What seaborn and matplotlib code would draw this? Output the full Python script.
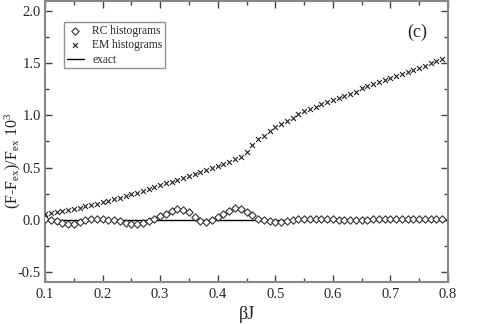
import numpy as np
import pandas as pd
import matplotlib
matplotlib.use("Agg")
import matplotlib.pyplot as plt
import seaborn as sns
from matplotlib.ticker import MultipleLocator

beta = [round(0.10 + 0.01 * i, 2) for i in range(70)]

rc_vals = [0.005, 0.000, -0.010, -0.030, -0.045, -0.040, -0.020, 0.000, 0.005, 0.005,
           0.005, 0.000, 0.000, -0.010, -0.030, -0.040, -0.045, -0.030, -0.015, 0.010,
           0.030, 0.050, 0.080, 0.100, 0.090, 0.070, 0.020, -0.010, -0.020, 0.000,
           0.020, 0.050, 0.080, 0.110, 0.100, 0.070, 0.040, 0.010, 0.000, -0.010,
           -0.020, -0.020, -0.010, 0.000, 0.002, 0.004, 0.005, 0.005, 0.005, 0.004,
           0.002, 0.000, -0.003, -0.005, -0.005, -0.003, 0.000, 0.003, 0.005, 0.006,
           0.007, 0.008, 0.008, 0.007, 0.006, 0.005, 0.005, 0.004, 0.004, 0.003]

em_vals = [0.050, 0.060, 0.070, 0.080, 0.092, 0.103, 0.115, 0.127, 0.140, 0.153,
           0.167, 0.181, 0.196, 0.211, 0.227, 0.243, 0.259, 0.276, 0.293, 0.311,
           0.329, 0.347, 0.365, 0.383, 0.401, 0.420, 0.438, 0.457, 0.476, 0.495,
           0.515, 0.535, 0.556, 0.578, 0.605, 0.650, 0.720, 0.770, 0.800, 0.850,
           0.890, 0.920, 0.950, 0.980, 1.010, 1.040, 1.060, 1.080, 1.110, 1.130,
           1.150, 1.170, 1.190, 1.210, 1.230, 1.260, 1.280, 1.300, 1.320, 1.340,
           1.360, 1.380, 1.400, 1.420, 1.440, 1.460, 1.480, 1.500, 1.520, 1.540]

exact_x = [0.1, 0.8]
exact_y = [0.0, 0.0]

sns.set_style("ticks")
plt.rcParams['font.family'] = ['Liberation Serif', 'DejaVu Serif']
plt.rcParams['mathtext.fontset'] = 'custom'
plt.rcParams['mathtext.rm'] = 'Liberation Serif'
plt.rcParams['mathtext.it'] = 'Liberation Serif:italic'

fig = plt.figure(figsize=(4.85, 3.24), dpi=100)
ax = fig.add_axes([0.0928, 0.1296, 0.8309, 0.8674])

df_rc = pd.DataFrame({"x": beta, "y": rc_vals})
df_em = pd.DataFrame({"x": beta, "y": em_vals})
df_ex = pd.DataFrame({"x": exact_x, "y": exact_y})

sns.lineplot(data=df_ex, x="x", y="y", ax=ax, color="black", lw=1.0,
             label="exact", zorder=1)
sns.scatterplot(data=df_rc, x="x", y="y", ax=ax, marker="D", s=14,
                facecolor="white", edgecolor="#333333", linewidth=0.8,
                label="RC histograms", zorder=3)
sns.scatterplot(data=df_em, x="x", y="y", ax=ax, marker="x", s=13,
                color="#222222", linewidth=0.8, label="EM histograms", zorder=3)

ax.set_xlim(0.1, 0.8)
ax.set_ylim(-0.6, 2.1)
ax.xaxis.set_minor_locator(MultipleLocator(0.05))
ax.yaxis.set_minor_locator(MultipleLocator(0.25))
ax.set_xticks([0.1, 0.2, 0.3, 0.4, 0.5, 0.6, 0.7, 0.8])
ax.set_xticklabels(["0.1", "0.2", "0.3", "0.4", "0.5", "0.6", "0.7", "0.8"])
ax.set_yticks([-0.5, 0.0, 0.5, 1.0, 1.5, 2.0])
ax.set_yticklabels(["-0.5", "0.0", "0.5", "1.0", "1.5", "2.0"])
ax.tick_params(which="both", direction="in", top=True, right=True,
               color="#444444", labelsize=10.5)
ax.tick_params(axis="x", pad=4)
ax.tick_params(axis="y", pad=3)
ax.tick_params(which="major", length=5, width=1.0)
ax.tick_params(which="minor", length=3, width=1.0)
for sp in ax.spines.values():
    sp.set_visible(True)
    sp.set_color("#888888")
    sp.set_linewidth(1.5)

ax.set_xlabel("βJ", fontsize=13, labelpad=4)
ax.set_ylabel(r"(F-F$_{\mathrm{ex}}$)/F$_{\mathrm{ex}}$ 10$^{3}$", fontsize=11.5)
ax.yaxis.set_label_coords(-0.054, 0.43)

handles, labels = ax.get_legend_handles_labels()
order = [labels.index("RC histograms"), labels.index("EM histograms"), labels.index("exact")]
leg = ax.legend([handles[i] for i in order], [labels[i] for i in order],
                loc="upper left", bbox_to_anchor=(0.047, 0.925), fontsize=8.3,
                frameon=True, fancybox=False, edgecolor="#777777",
                handlelength=1.5, handletextpad=0.7, borderpad=0.25,
                labelspacing=0.2, markerscale=1.0, borderaxespad=0.0)
leg.get_frame().set_linewidth(1.0)

ax.text(0.923, 0.89, "(c)", transform=ax.transAxes, fontsize=13,
        ha="center", va="center")

fig.savefig("out.png", dpi=100)
